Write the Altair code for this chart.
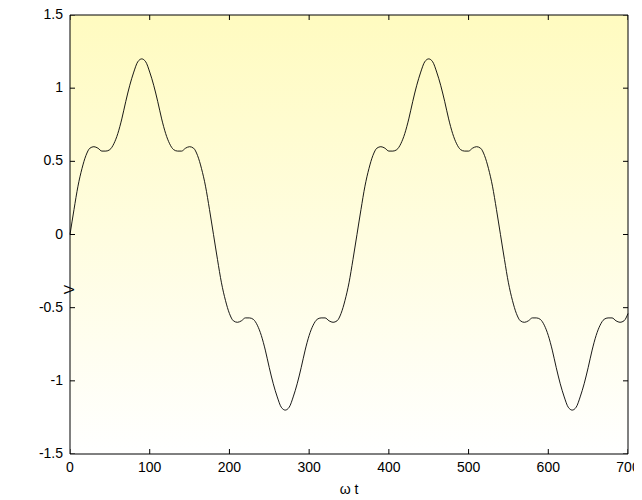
import altair as alt
import pandas as pd

# omega*t in degrees, 5-degree steps
wt = list(range(0, 705, 5))
v = [
    0.00, 0.17, 0.33, 0.45, 0.54, 0.59, 0.60, 0.59, 0.57, 0.57, 0.58, 0.62,
    0.69, 0.79, 0.91, 1.02, 1.11, 1.18, 1.20, 1.18, 1.11, 1.02, 0.91, 0.79,
    0.69, 0.62, 0.58, 0.57, 0.57, 0.59, 0.60, 0.59, 0.54, 0.45, 0.33, 0.17,
    0.00, -0.17, -0.33, -0.45, -0.54, -0.59, -0.60, -0.59, -0.57, -0.57, -0.58, -0.62,
    -0.69, -0.79, -0.91, -1.02, -1.11, -1.18, -1.20, -1.18, -1.11, -1.02, -0.91, -0.79,
    -0.69, -0.62, -0.58, -0.57, -0.57, -0.59, -0.60, -0.59, -0.54, -0.45, -0.33, -0.17,
    0.00, 0.17, 0.33, 0.45, 0.54, 0.59, 0.60, 0.59, 0.57, 0.57, 0.58, 0.62,
    0.69, 0.79, 0.91, 1.02, 1.11, 1.18, 1.20, 1.18, 1.11, 1.02, 0.91, 0.79,
    0.69, 0.62, 0.58, 0.57, 0.57, 0.59, 0.60, 0.59, 0.54, 0.45, 0.33, 0.17,
    0.00, -0.17, -0.33, -0.45, -0.54, -0.59, -0.60, -0.59, -0.57, -0.57, -0.58, -0.62,
    -0.69, -0.79, -0.91, -1.02, -1.11, -1.18, -1.20, -1.18, -1.11, -1.02, -0.91, -0.79,
    -0.69, -0.62, -0.58, -0.57, -0.57, -0.59, -0.60, -0.59, -0.54,
]

x_ticks = [0, 100, 200, 300, 400, 500, 600, 700]
x_labels = ["0", "100", "200", "300", "400", "500", "600", "700"]
y_ticks = [-1.5, -1, -0.5, 0, 0.5, 1, 1.5]
y_labels = ["-1.5", "-1", "-0.5", "0", "0.5", "1", "1.5"]
x_range = [0, 700]
y_range = [-1.5, 1.5]
x_title = "ω t"
y_title = "V"

df = pd.DataFrame({"wt": wt, "v": v})
xt = pd.DataFrame({"t": x_ticks, "lab": x_labels})
yt = pd.DataFrame({"t": y_ticks, "lab": y_labels})
one = pd.DataFrame({"a": [0]})

W, H = 558, 439
FONT = "Liberation Sans"

xs = alt.Scale(domain=x_range, nice=False, zero=False)
ys = alt.Scale(domain=y_range, nice=False, zero=False)

main = alt.Chart(df).mark_line(color="black", strokeWidth=0.9, interpolate="monotone").encode(
    x=alt.X("wt:Q", scale=xs, axis=None),
    y=alt.Y("v:Q", scale=ys, axis=None),
)

# frame around the plot area
frame = alt.Chart(one).mark_rect(
    filled=False, stroke="black", strokeWidth=1
).encode(
    x=alt.X(datum=x_range[0], axis=None),
    x2=alt.X2(datum=x_range[1]),
    y=alt.Y(datum=y_range[0], axis=None),
    y2=alt.Y2(datum=y_range[1]),
)

# inward ticks (clipped to the plot area, so only the inner half shows)
def xtick(edge):
    return alt.Chart(xt).mark_tick(
        orient="vertical", size=10, thickness=1, color="black", opacity=1, clip=True
    ).encode(
        x=alt.X("t:Q", axis=None),
        y=alt.Y(datum=edge, axis=None),
    )

def ytick(edge):
    return alt.Chart(yt).mark_tick(
        orient="horizontal", size=10, thickness=1, color="black", opacity=1, clip=True
    ).encode(
        y=alt.Y("t:Q", axis=None),
        x=alt.X(datum=edge, axis=None),
    )

# tick labels and axis titles as text
xlab = alt.Chart(xt).mark_text(
    font=FONT, fontSize=14, color="black", baseline="top", align="center", dy=7
).encode(x=alt.X("t:Q", axis=None), y=alt.Y(datum=y_range[0], axis=None), text="lab:N")

ylab = alt.Chart(yt).mark_text(
    font=FONT, fontSize=14, color="black", baseline="middle", align="right", dx=-7
).encode(y=alt.Y("t:Q", axis=None), x=alt.X(datum=x_range[0], axis=None), text="lab:N")

xtitle = alt.Chart(one).mark_text(
    font=FONT, fontSize=14, color="black", baseline="middle", align="center", dy=36
).encode(x=alt.X(datum=350, axis=None), y=alt.Y(datum=y_range[0], axis=None),
         text=alt.value(x_title))

ytitle = alt.Chart(one).mark_text(
    font=FONT, fontSize=14, color="black", baseline="middle", align="center",
    angle=270, dx=-55
).encode(x=alt.X(datum=x_range[0], axis=None), y=alt.Y(datum=0, axis=None),
         text=alt.value(y_title))

GRADIENT = ("{gradient: 'linear', x1: 0, y1: 0, x2: 0, y2: 1, "
            "stops: [{offset: 0, color: '#fffbc0'}, {offset: 1, color: '#ffffff'}]}")

chart = alt.layer(
    main, frame,
    xtick(y_range[0]), xtick(y_range[1]),
    ytick(x_range[0]), ytick(x_range[1]),
    xlab, ylab, xtitle, ytitle,
).properties(
    width=W, height=H,
    autosize=alt.AutoSizeParams(type="none"),
    padding={"left": 62, "top": 7, "right": 6, "bottom": 46},
    background="white",
).configure_view(
    fill={"expr": GRADIENT},
    strokeWidth=0,
)

chart.save("out.html", embed_options={"renderer": "svg", "actions": False})
